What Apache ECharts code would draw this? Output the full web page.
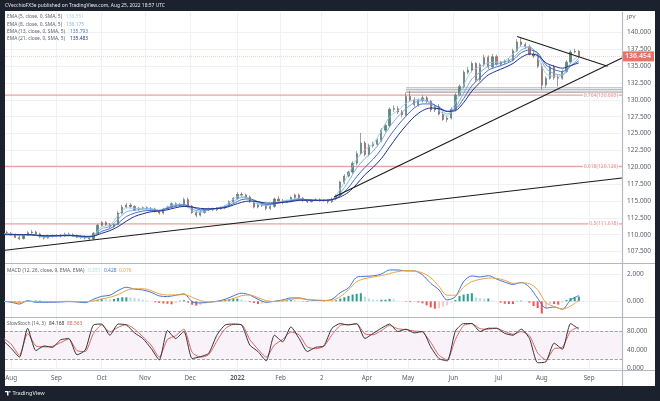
<!DOCTYPE html>
<html>
<head>
<meta charset="utf-8">
<title>USD/JPY</title>
<script src="https://cdn.jsdelivr.net/npm/echarts@6/dist/echarts.min.js"></script>
<style>
html,body{margin:0;padding:0;background:#1c212e;}
#main{width:660px;height:401px;}
</style>
</head>
<body>
<div id="main"></div>
<script>
//bar index of each month label on the time axis
var monthBars=[1,23,45,66,88,111,132,152,174,194,216,238,259,282];
var monthNames=['Aug','Sep','Oct','Nov','Dec','2022','Feb','2','Apr','May','Jun','Jul','Aug','Sep'];
var priceTicks=[107.5,110,112.5,115,117.5,120,122.5,125,127.5,130,132.5,135,137.5,140];
var macdTicks=[0,2];
var stochTicks=[0,40,80];

//candles, one drawn for every second bar
var candleStart=-1,candleStep=2;
var opens=[110.3,110.2,110.0,109.6,109.4,109.9,110.3,110.4,110.1,109.7,
109.5,109.8,109.8,109.9,109.8,110.1,110.0,109.8,109.6,109.7,
109.5,109.4,110.2,111.4,111.8,111.5,111.2,111.5,113.2,114.1,
114.4,114.2,113.7,113.9,114.0,113.9,113.8,113.5,113.2,113.8,
114.1,114.6,114.3,114.4,115.2,114.2,113.3,112.9,113.3,113.7,
113.8,113.7,113.9,114.0,114.2,114.9,115.4,116.0,115.9,115.6,
114.9,114.1,114.4,114.3,113.9,114.2,115.3,115.0,114.8,115.0,
115.5,115.9,115.4,115.1,114.9,115.1,115.2,115.1,115.1,114.9,
115.3,115.8,117.8,118.7,119.3,120.6,122.0,123.6,121.9,123.2,
123.4,124.0,125.5,126.2,128.6,128.7,128.2,127.8,130.5,130.0,
129.3,129.9,130.3,129.8,128.5,129.0,127.9,127.1,127.3,128.6,
130.7,132.0,134.1,134.4,135.4,133.0,135.2,136.3,134.9,136.4,
135.3,135.6,135.8,135.9,137.3,138.6,138.2,137.9,136.8,136.5,
135.0,132.2,133.2,134.9,133.3,133.2,134.2,135.6,137.1,137.2];
var closes=[110.2,110.0,109.6,109.4,109.9,110.3,110.4,110.1,109.7,109.5,
109.8,109.8,109.9,109.8,110.1,110.0,109.8,109.6,109.7,109.5,
109.4,110.2,111.4,111.8,111.5,111.2,111.5,113.2,114.1,114.4,
114.2,113.7,113.9,114.0,113.9,113.8,113.5,113.2,113.8,114.1,
114.6,114.3,114.4,115.2,114.2,113.3,112.9,113.3,113.7,113.8,
113.7,113.9,114.0,114.2,114.9,115.4,116.0,115.9,115.6,114.9,
114.1,114.4,114.3,113.9,114.2,115.3,115.0,114.8,115.0,115.5,
115.9,115.4,115.1,114.9,115.1,115.2,115.1,115.1,114.9,115.3,
115.8,117.8,118.7,119.3,120.6,122.0,123.6,121.9,123.2,123.4,
124.0,125.5,126.2,128.6,128.7,128.2,127.8,130.5,130.0,129.3,
129.9,130.3,129.8,128.5,129.0,127.9,127.1,127.3,128.6,130.7,
132.0,134.1,134.4,135.4,133.0,135.2,136.3,134.9,136.4,135.3,
135.6,135.8,135.9,137.3,138.6,138.2,137.9,136.8,136.5,135.0,
132.2,133.2,134.9,133.3,133.2,134.2,135.6,137.1,137.2,136.454];
var highs=[110.6,110.4,110.2,109.9,110.1,110.5,110.7,110.6,110.3,109.9,
110.0,110.0,110.1,110.1,110.3,110.3,110.2,110.0,109.9,109.9,
109.7,110.4,111.6,112.0,112.0,111.7,111.7,113.5,114.4,114.7,
114.7,114.4,114.1,114.2,114.2,114.1,114.0,113.7,114.0,114.3,
114.8,114.8,114.7,115.5,115.5,114.4,113.6,113.6,113.9,114.0,
114.0,114.1,114.2,114.4,115.1,115.6,116.3,116.3,116.1,115.8,
115.1,114.7,114.7,114.5,114.4,115.5,115.7,115.3,115.2,115.7,
116.1,116.1,115.6,115.3,115.3,115.4,115.4,115.3,115.3,115.5,
116.0,118.0,119.0,119.5,120.9,122.4,125.1,123.9,123.5,123.8,
124.3,125.8,126.5,128.9,129.2,129.1,128.5,131.1,131.3,130.4,
130.2,130.7,130.6,130.0,129.3,129.4,128.2,127.6,128.9,131.0,
132.3,134.4,134.9,135.7,135.6,135.5,136.7,136.6,136.8,136.7,
135.8,136.0,136.2,137.6,139.0,139.2,138.5,138.2,137.4,136.9,
135.4,133.5,135.2,135.2,133.7,134.5,135.9,137.4,137.6,137.4];
var lows=[110.0,109.9,109.5,109.2,109.3,109.8,110.1,110.0,109.5,109.3,
109.4,109.6,109.7,109.6,109.7,109.8,109.7,109.5,109.4,109.3,
109.1,109.2,110.1,111.2,111.3,111.0,111.0,111.4,113.0,113.9,
113.9,113.5,113.5,113.7,113.7,113.6,113.3,113.0,113.0,113.7,
113.9,114.1,114.1,114.2,114.0,113.1,112.6,112.7,113.1,113.5,
113.5,113.5,113.7,113.8,114.1,114.7,115.2,115.6,115.4,114.7,
113.9,113.9,114.1,113.6,113.7,114.0,114.8,114.5,114.7,114.8,
115.3,115.2,114.9,114.7,114.8,115.0,114.9,114.9,114.6,114.7,
115.1,115.6,117.5,118.5,119.0,120.3,121.8,121.6,121.6,122.9,
123.1,123.7,125.2,125.9,128.2,127.9,127.4,127.6,129.7,129.0,
129.0,129.6,129.5,128.2,128.2,127.7,126.9,126.7,127.1,128.3,
130.5,131.7,133.8,134.1,132.7,132.7,134.9,134.6,134.6,135.1,
135.0,135.3,135.5,135.7,137.1,137.9,137.6,136.6,136.2,134.7,
131.5,131.8,133.0,133.0,132.0,133.0,134.0,135.3,136.9,136.2];

//indicator lines, one point for every fourth bar
var lineStart=-3,lineStep=4;
var ema5=[110.2,110.1,109.9,110.0,109.9,109.6,109.8,109.9,110.0,109.7,109.5,109.9,111.2,111.4,112.9,114.0,113.9,113.9,113.9,113.5,114.1,114.5,114.5,113.5,113.3,113.7,113.9,114.3,115.3,115.8,115.2,114.5,114.3,114.7,115.0,115.2,115.4,115.1,115.1,115.1,115.2,116.8,119.0,121.2,122.6,123.5,125.4,127.5,128.4,129.5,130.0,130.1,129.4,128.4,127.6,129.6,132.2,134.3,134.9,135.5,135.6,135.8,136.8,137.9,137.9,136.3,133.9,133.5,133.7,135.5,136.55];
var ema8=[110.2,110.1,110.0,110.0,109.9,109.7,109.8,109.9,109.95,109.75,109.6,109.8,110.9,111.2,112.3,113.4,113.6,113.8,113.8,113.6,114.0,114.4,114.5,113.8,113.5,113.7,113.9,114.2,114.9,115.5,115.4,114.7,114.4,114.6,114.9,115.1,115.3,115.2,115.1,115.1,115.2,116.2,117.9,119.9,121.3,122.4,124.0,126.0,127.5,128.7,129.6,129.9,129.6,128.8,127.9,128.9,131.0,133.1,134.1,135.0,135.3,135.6,136.2,137.4,137.8,136.8,134.7,133.9,133.7,135.0,136.18];
var ema13=[110.1,110.0,110.0,110.0,109.9,109.8,109.8,109.85,109.9,109.8,109.7,109.75,110.5,110.9,111.7,112.7,113.2,113.5,113.6,113.6,113.9,114.2,114.4,114.1,113.7,113.7,113.9,114.1,114.6,115.2,115.3,114.9,114.5,114.6,114.8,115.0,115.2,115.2,115.1,115.1,115.2,115.8,117.0,118.6,120.0,121.2,122.7,124.6,126.2,127.6,128.8,129.4,129.4,128.9,128.3,128.6,130.2,132.1,133.3,134.4,134.9,135.3,135.9,137.0,137.4,137.0,135.2,134.5,134.2,135.0,135.79];
var ema21=[110.0,110.0,110.0,110.0,109.95,109.85,109.85,109.85,109.85,109.85,109.75,109.8,110.2,110.6,111.2,112.0,112.7,113.1,113.4,113.5,113.7,114.0,114.2,114.1,113.9,113.85,113.9,114.0,114.4,114.8,115.0,114.9,114.7,114.7,114.8,114.9,115.1,115.1,115.1,115.1,115.2,115.6,116.3,117.5,118.9,120.0,121.3,123.0,124.7,126.2,127.5,128.4,128.8,128.7,128.3,128.4,129.6,131.3,132.6,133.7,134.3,134.8,135.4,136.3,136.8,136.6,135.5,135.0,134.7,135.1,135.48];
var macdLine=[0,-.07,-.2,.05,-.07,-.07,-.07,-.05,-.02,-.05,-.1,.15,.37,.45,.8,1.04,.9,.84,.67,.4,.35,.45,.55,-.02,-.12,-.07,0,.15,.4,.6,.47,.15,-.07,0,.1,.25,.25,.12,.07,.05,.15,.64,.99,1.78,1.85,1.88,2.02,2.32,2.32,2.25,2.25,1.95,1.33,.85,.1,.35,1.46,1.88,1.8,1.9,1.65,1.42,1.25,1.4,1.05,.22,-.5,-.42,-.58,.1,.428];
var signalLine=[0,-.02,-.08,0,0,-.02,-.02,-.01,0,-.02,-.03,.03,.17,.3,.5,.8,.93,.93,.8,.55,.47,.47,.5,.3,.05,-.05,-.02,.05,.2,.42,.47,.27,.05,-.02,.05,.15,.2,.15,.1,.07,.08,.35,.85,1.45,1.68,1.8,1.9,2.05,2.2,2.27,2.25,2.1,1.75,1.1,.45,.45,1.05,1.46,1.62,1.72,1.7,1.55,1.33,1.36,1.3,.85,-.1,-.38,-.58,-.35,.076];
var stochK=[60,43,24,86,38,48,45,61,64,29,39,93,95,71,95,93,76,64,43,18,81,64,79,21,25,32,71,93,95,93,50,36,16,71,57,89,64,36,45,48,86,96,93,96,64,75,86,95,79,84,76,79,46,21,16,80,96,96,79,86,86,75,71,84,64,12,14,54,41,96,84.168];
var stochD=[65,52,28,75,48,46,47,55,63,38,36,75,93,78,88,94,84,68,50,24,62,70,84,34,24,29,58,85,94,94,62,41,24,50,62,78,72,46,42,47,72,92,94,95,74,72,81,92,85,83,80,78,56,28,18,62,92,96,85,84,86,79,73,79,70,33,18,42,45,80,88.563];

//histogram, one bar for every second bar, same slots as the candles
var macdHist=[-.04,-.06,-.08,-.08,-.05,-.03,.02,.05,.05,.02,
-.01,-.02,-.02,-.01,0,.01,.01,0,-.02,-.03,
-.04,.03,.1,.18,.16,.14,.17,.25,.3,.3,
.28,.25,.2,.12,.06,0,-.06,-.12,-.16,-.18,
-.22,-.12,.04,.08,-.1,-.25,-.32,-.28,-.15,-.05,
-.02,.03,.07,.12,.16,.2,.2,.14,.06,-.06,
-.12,-.2,-.18,-.12,-.05,.01,.05,.07,.08,.09,
.07,.03,-.02,-.05,-.04,-.02,-.01,.02,.01,.02,
.08,.2,.3,.4,.5,.55,.6,.35,.2,.12,
.1,.12,.12,.18,.15,.05,0,-.03,-.06,-.05,
-.08,-.15,-.3,-.45,-.55,-.5,-.4,-.3,-.1,.1,
.4,.5,.55,.6,.3,.25,.2,.2,.05,.02,
-.1,-.18,-.2,-.2,.03,.05,.02,-.1,-.35,-.5,
-.9,-.5,-.2,-.2,-.25,-.1,.1,.25,.3,.351];

//drawn levels and trend lines, [bar, price]
var fibLevels=[130.693,120.126,111.618];
var fibLabels=['0.764(130.693)','0.618(120.126)','0.5(111.618)'];
var boxLevels=[131.8,131.55,131.3,131.1];
var boxStart=193;
var lastPrice=136.454;
var trendLong=[[-2,107.7],[298,118.4]];
var trendSteep=[[158,115.6],[298,136.2]];
var trendDown=[[247,139.4],[291,135.0]];

var gridColor='#f0f1f4';
var textColor='#5d606b';
var font='"Noto Sans",sans-serif';

function lineData(arr){
  return arr.map(function(v,i){return [lineStart+i*lineStep,v]});
}
function slotData(arr){
  return arr.map(function(v,i){return [candleStart+i*candleStep,v]});
}
function emaSeries(name,arr,color,width){
  return {name:name,type:'line',data:lineData(arr),symbol:'none',smooth:0.3,z:4,
    lineStyle:{color:color,width:width},silent:true};
}
function levelSeries(name,fromBar,price,color,width,dash){
  return {name:name,type:'line',data:[[fromBar,price],[298,price]],symbol:'none',z:2,silent:true,
    lineStyle:{color:color,width:width,type:dash}};
}
function valueAxis(gridIndex,min,max,ticks,digits){
  return {type:'value',gridIndex:gridIndex,position:'right',min:min,max:max,
    axisLine:{show:false},
    axisTick:{show:false,customValues:ticks},
    splitLine:{show:true,lineStyle:{color:gridColor,width:1}},
    axisLabel:{customValues:ticks,color:textColor,fontSize:6.5,fontFamily:font,margin:5,
      formatter:function(v){return v.toFixed(digits)}}};
}
function timeAxis(gridIndex,showLabel){
  return {type:'value',gridIndex:gridIndex,min:-2,max:298,
    axisLine:{show:false},
    axisTick:{show:false,customValues:monthBars},
    splitLine:{show:true,lineStyle:{color:gridColor,width:1}},
    axisLabel:{show:showLabel,customValues:monthBars,color:textColor,fontSize:6.3,fontFamily:font,margin:5,
      formatter:function(v){
        var name=monthNames[monthBars.indexOf(v)];
        return name=='2022'?'{b|2022}':name;
      },
      rich:{b:{fontWeight:'bold',fontSize:6.3,color:textColor,fontFamily:font}}}};
}
function txt(x,y,str,color,size,weight){
  return {type:'text',x:x,y:y,z:20,style:{text:str,fill:color,font:(weight||'normal')+' '+size+'px '+font,
    textVerticalAlign:'middle'}};
}
function rule(x1,y1,x2,y2){
  return {type:'line',z:10,shape:{x1:x1,y1:y1,x2:x2,y2:y2},style:{stroke:'#b4b8c0',lineWidth:1.2}};
}

var candles=opens.map(function(o,i){
  return [candleStart+i*candleStep,o,closes[i],lows[i],highs[i]];
});

var levels=[];
fibLevels.forEach(function(v,i){levels.push(levelSeries('fib'+i,-2,v,'#eda0a0',1.2,'solid'))});
boxLevels.forEach(function(v,i){levels.push(levelSeries('box'+i,boxStart,v,'#b7b9be',1,'solid'))});
levels.push(levelSeries('priceLine',-2,lastPrice,'#f2cfcc',1,'dotted'));

var chart=echarts.init(document.getElementById('main'),null,{renderer:'canvas'});
chart.setOption({
  animation:false,
  backgroundColor:'#1c212e',
  grid:[
    {left:5,top:12,width:617,height:251},
    {left:5,top:264,width:617,height:53},
    {left:5,top:318,width:617,height:52}
  ],
  xAxis:[timeAxis(0,false),timeAxis(1,false),timeAxis(2,true)],
  yAxis:[
    valueAxis(0,105.8,143.04,priceTicks,3),
    valueAxis(1,-1.16,2.76,macdTicks,3),
    valueAxis(2,-3.6,108,stochTicks,3)
  ],
  graphic:[
    {type:'rect',z:-10,shape:{x:5,y:11,width:650,height:375},style:{fill:'#ffffff'}},
    rule(5,263.5,655,263.5),
    rule(5,317.5,655,317.5),
    rule(5,370.5,655,370.5),
    rule(622.5,12,622.5,386),
    txt(5,6,'CVecchioFX3e published on TradingView.com, Aug 25, 2022 18:57 UTC','#e8e9ec',4.9),
    txt(7,17,'EMA (5, close, 0, SMA, 5)',textColor,4.9),
    txt(66,17,'136.551','#a9d6e8',4.9),
    txt(7,24.7,'EMA (8, close, 0, SMA, 5)',textColor,4.9),
    txt(66,24.7,'136.175','#7db4e6',4.9),
    txt(7,31.7,'EMA (13, close, 0, SMA, 5)',textColor,4.9),
    txt(70,31.7,'135.793','#4a78c8',4.9),
    txt(7,39,'EMA (21, close, 0, SMA, 5)',textColor,4.9),
    txt(70,39,'135.483','#1f2f8f',4.9),
    txt(627,17,'JPY',textColor,6),
    txt(7,270.5,'MACD (12, 26, close, 9, EMA, EMA)',textColor,4.9),
    txt(88,270.5,'0.351','#a9d6e0',4.9),
    txt(104,270.5,'0.428','#3f73d6',4.9),
    txt(119,270.5,'0.076','#f0a040',4.9),
    txt(7,324,'SlowStoch (14, 3)',textColor,4.9),
    txt(49,324,'84.168','#333333',4.9),
    txt(67,324,'88.563','#e0605c',4.9),
    {type:'polygon',z:20,shape:{points:[[5,391],[8.5,391],[8.5,395.5],[7,395.5],[7,392.3],[5,392.3]]},style:{fill:'#ffffff'}},
    {type:'circle',z:20,shape:{cx:9.8,cy:391.8,r:0.8},style:{fill:'#ffffff'}},
    txt(12.5,393,'TradingView','#e8e9ec',5.6)
  ],
  series:levels.concat([
    {name:'USDJPY',type:'candlestick',data:candles,xAxisIndex:0,yAxisIndex:0,barWidth:1.7,z:3,silent:true,
      encode:{x:0,y:[1,2,3,4]},
      itemStyle:{color:'#4a8c7e',color0:'#c4706a',borderColor:'#5c6662',borderColor0:'#6e5654',borderWidth:0.6}},
    emaSeries('EMA5',ema5,'#98cbe8',0.9),
    emaSeries('EMA8',ema8,'#6ea8e2',0.9),
    emaSeries('EMA13',ema13,'#4270c8',1),
    emaSeries('EMA21',ema21,'#1f2f8f',1),
    {name:'trendLong',type:'line',data:trendLong,symbol:'none',z:5,lineStyle:{color:'#1b1b1b',width:1.1}},
    {name:'trendSteep',type:'line',data:trendSteep,symbol:'none',z:5,lineStyle:{color:'#1b1b1b',width:1.1}},
    {name:'trendDown',type:'line',data:trendDown,symbol:'none',z:5,lineStyle:{color:'#1b1b1b',width:1.1}},
    {name:'fibLabels',type:'scatter',symbolSize:0,z:6,silent:true,
      data:fibLevels.map(function(v,i){return {value:[296.5,v],name:fibLabels[i]}}),
      label:{show:true,position:'left',distance:0,formatter:'{b}',color:'#e0736f',fontSize:5,fontFamily:font,
        backgroundColor:'#ffffff',padding:[0,1]}},
    {name:'lastPrice',type:'scatter',symbolSize:0,z:8,silent:true,clip:false,
      data:[[298,lastPrice]],
      label:{show:true,position:'right',distance:0,formatter:function(){return lastPrice.toFixed(3)},
        color:'#ffffff',fontSize:7,fontWeight:'bold',fontFamily:font,
        backgroundColor:'#df4f3f',padding:[1.5,3,1.5,3]}},

    {name:'hist',type:'bar',xAxisIndex:1,yAxisIndex:1,barWidth:2,z:3,silent:true,
      data:slotData(macdHist),
      itemStyle:{color:function(p){
        var v=macdHist[p.dataIndex],prev=p.dataIndex>0?macdHist[p.dataIndex-1]:0;
        if(v>=0) return v>=prev?'#2a9d8f':'#b2dfdb';
        return v<=prev?'#ef5350':'#f9c5c5';
      }}},
    {name:'macd',type:'line',xAxisIndex:1,yAxisIndex:1,data:lineData(macdLine),symbol:'none',smooth:0.3,z:4,
      lineStyle:{color:'#3f73d6',width:1}},
    {name:'signal',type:'line',xAxisIndex:1,yAxisIndex:1,data:lineData(signalLine),symbol:'none',smooth:0.3,z:4,
      lineStyle:{color:'#f0a040',width:1}},

    {name:'stochD',type:'line',xAxisIndex:2,yAxisIndex:2,data:lineData(stochD),symbol:'none',smooth:0.2,z:4,
      lineStyle:{color:'#e0605c',width:1},
      markArea:{silent:true,itemStyle:{color:'#faf2f9'},data:[[{yAxis:20},{yAxis:80}]]},
      markLine:{silent:true,symbol:'none',label:{show:false},
        lineStyle:{color:'#8a8d94',width:0.8,type:'dashed'},data:[{yAxis:80},{yAxis:20}]}},
    {name:'stochK',type:'line',xAxisIndex:2,yAxisIndex:2,data:lineData(stochK),symbol:'none',smooth:0.2,z:5,
      lineStyle:{color:'#30343a',width:1}}
  ])
});
</script>
</body>
</html>
